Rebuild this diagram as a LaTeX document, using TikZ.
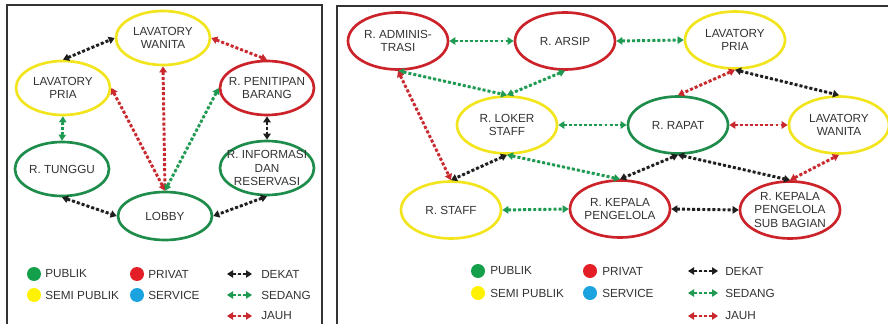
\documentclass[tikz,border=0pt]{standalone}
\usepackage{fontspec}
\setmainfont{Liberation Sans}
\usetikzlibrary{shapes.geometric, arrows.meta}

\definecolor{kuning}{HTML}{F2E51E}
\definecolor{merah}{HTML}{CC232A}
\definecolor{hijau}{HTML}{1E8C4A}
\definecolor{hitam}{HTML}{1E1E1E}
\definecolor{ehijau}{HTML}{1F9A52}
\definecolor{emerah}{HTML}{C8282E}
\definecolor{lhijau}{HTML}{14A04A}
\definecolor{lmerah}{HTML}{E41E26}
\definecolor{lkuning}{HTML}{FFF200}
\definecolor{lbiru}{HTML}{1BA3E0}
\definecolor{teks}{HTML}{333333}
\definecolor{bingkai}{HTML}{333333}

\tikzset{
  room/.style={ellipse, draw, line width=2pt, minimum width=70.5pt, minimum height=40.5pt, inner sep=0pt},
  wide/.style={minimum width=75pt, minimum height=42.75pt},
  publik/.style={room, draw=hijau},
  semi/.style={room, draw=kuning},
  privat/.style={room, draw=merah},
  link/.style={line width=2.2pt, dash pattern=on 2.2pt off 1.6pt,
    {Triangle[length=4.5pt,width=5.5pt]}-{Triangle[length=4.5pt,width=5.5pt]}},
  dekat/.style={link, draw=hitam, fill=hitam},
  sedang/.style={link, draw=ehijau, fill=ehijau},
  jauh/.style={link, draw=emerah, fill=emerah},
  dot/.style={circle, minimum size=10.5pt, inner sep=0pt},
  legtxt/.style={anchor=west, inner sep=0pt, font=\fontsize{8.8pt}{10pt}\selectfont, text=teks},
  frame/.style={draw=bingkai, line width=0.8pt}
}

\begin{document}
\begin{tikzpicture}[x=0.75pt, y=-0.75pt,
  every label/.style={font=\fontsize{8.8pt}{10pt}\selectfont, text=teks, align=center, inner sep=0pt}]
\useasboundingbox (0,0) rectangle (888,324);
\fill[white] (0,0) rectangle (888,324);

% frames
\draw[frame] (7,324) -- (7,5) -- (322,5) -- (322,324);
\draw[frame] (337,324) -- (337,6) -- (888,6);

% left panel
\node[semi, label=center:{LAVATORY\\WANITA}] (wanitaA) at (163,38) {};
\node[semi, label=center:{LAVATORY\\PRIA}] (priaA) at (63,88) {};
\node[privat, label=center:{R. PENITIPAN\\BARANG}] (penitipan) at (267,88) {};
\node[publik, label=center:{R. TUNGGU}] (tunggu) at (62,169) {};
\node[publik, label=center:{R. INFORMASI\\DAN\\RESERVASI}] (informasi) at (267,168) {};
\node[publik, minimum height=36pt, label=center:{LOBBY}] (lobby) at (165,216) {};

\draw[dekat] (priaA.north) -- (wanitaA.west);
\draw[jauh] (wanitaA.east) -- (penitipan.north);
\draw[sedang] (priaA.south) -- (tunggu.north);
\draw[jauh] (priaA.east) -- (lobby.north);
\draw[jauh] (wanitaA.south) -- (lobby.north);
\draw[sedang] (penitipan.west) -- (lobby.north);
\draw[dekat] (penitipan.south) -- (informasi.north);
\draw[dekat] (tunggu.south) -- (lobby.west);
\draw[dekat] (informasi.south) -- (lobby.east);

% right panel
\node[privat, wide, label=center:{R. ADMINIS-\\TRASI}] (adminis) at (398,41) {};
\node[privat, wide, label=center:{R. ARSIP}] (arsip) at (565,41) {};
\node[semi, wide, label=center:{LAVATORY\\PRIA}] (priaB) at (735,40) {};
\node[semi, wide, label=center:{R. LOKER\\STAFF}] (loker) at (507,125) {};
\node[publik, wide, label=center:{R. RAPAT}] (rapat) at (678,125) {};
\node[semi, wide, label=center:{LAVATORY\\WANITA}] (wanitaB) at (839,125) {};
\node[semi, wide, label=center:{R. STAFF}] (staff) at (451,210) {};
\node[privat, wide, label=center:{R. KEPALA\\PENGELOLA}] (kepala) at (620,209) {};
\node[privat, wide, label=center:{R. KEPALA\\PENGELOLA\\SUB BAGIAN}] (subbagian) at (790,210) {};

\draw[sedang] (adminis.east) -- (arsip.west);
\draw[sedang] (arsip.east) -- (priaB.west);
\draw[sedang] (adminis.south) -- (loker.north);
\draw[sedang] (arsip.south) -- (loker.north);
\draw[jauh] (adminis.south) -- (staff.north);
\draw[dekat] (loker.south) -- (staff.north);
\draw[sedang] (loker.east) -- (rapat.west);
\draw[sedang] (loker.south) -- (kepala.north);
\draw[sedang] (staff.east) -- (kepala.west);
\draw[dekat] (rapat.south) -- (kepala.north);
\draw[dekat] (rapat.south) -- (subbagian.north);
\draw[dekat] (kepala.east) -- (subbagian.west);
\draw[jauh] (priaB.south) -- (rapat.north);
\draw[dekat] (priaB.south) -- (wanitaB.north);
\draw[jauh] (rapat.east) -- (wanitaB.west);
\draw[jauh] (subbagian.north) -- (wanitaB.south);

% legend left
\node[dot, fill=lhijau] (pubA) at (34,274) {};
\node[legtxt] (pubAt) at (45,274) {PUBLIK};
\node[dot, fill=lkuning] (semA) at (34,295) {};
\node[legtxt] (semAt) at (45,295) {SEMI PUBLIK};
\node[dot, fill=lmerah] (priA) at (137,274) {};
\node[legtxt] (priAt) at (148,274) {PRIVAT};
\node[dot, fill=lbiru] (serA) at (137,295) {};
\node[legtxt] (serAt) at (148,295) {SERVICE};
\coordinate (dA1) at (227,274); \coordinate (dA2) at (252,274);
\coordinate (sA1) at (227,295); \coordinate (sA2) at (252,295);
\coordinate (jA1) at (227,316); \coordinate (jA2) at (252,316);
\draw[dekat] (dA1) -- (dA2);
\draw[sedang] (sA1) -- (sA2);
\draw[jauh] (jA1) -- (jA2);
\node[legtxt] (dAt) at (261,274) {DEKAT};
\node[legtxt] (sAt) at (261,295) {SEDANG};
\node[legtxt] (jAt) at (261,316) {JAUH};

% legend right
\node[dot, fill=lhijau] (pubB) at (478,271) {};
\node[legtxt] (pubBt) at (490,271) {PUBLIK};
\node[dot, fill=lkuning] (semB) at (478,293) {};
\node[legtxt] (semBt) at (490,293) {SEMI PUBLIK};
\node[dot, fill=lmerah] (priB) at (590,271) {};
\node[legtxt] (priBt) at (602,271) {PRIVAT};
\node[dot, fill=lbiru] (serB) at (590,293) {};
\node[legtxt] (serBt) at (602,293) {SERVICE};
\coordinate (dB1) at (688,271); \coordinate (dB2) at (718,271);
\coordinate (sB1) at (688,293); \coordinate (sB2) at (718,293);
\coordinate (jB1) at (688,316); \coordinate (jB2) at (718,316);
\draw[dekat] (dB1) -- (dB2);
\draw[sedang] (sB1) -- (sB2);
\draw[jauh] (jB1) -- (jB2);
\node[legtxt] (dBt) at (725,271) {DEKAT};
\node[legtxt] (sBt) at (725,293) {SEDANG};
\node[legtxt] (jBt) at (725,316) {JAUH};
\end{tikzpicture}
\end{document}
